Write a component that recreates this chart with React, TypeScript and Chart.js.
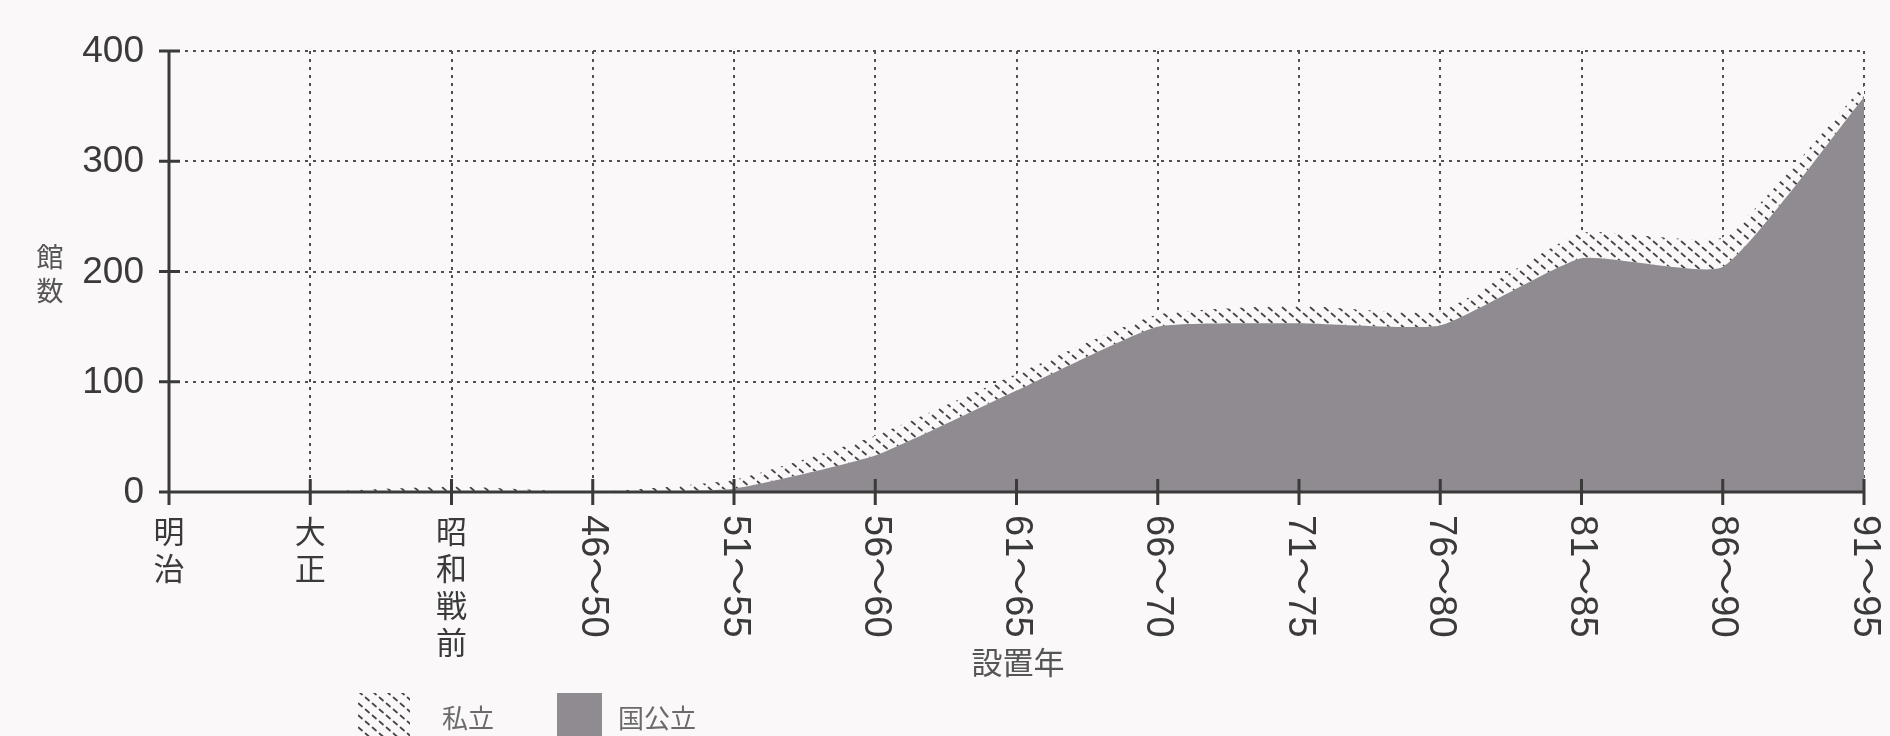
import React, { useEffect, useRef } from 'react';
import { Chart, registerables } from 'chart.js';

Chart.register(...registerables);

const categories = ['明治', '大正', '昭和戦前', '46〜50', '51〜55', '56〜60', '61〜65', '66〜70', '71〜75', '76〜80', '81〜85', '86〜90', '91〜95'];
const publicValues = [0, 0, 1, 0, 3, 33, 92, 150, 153, 151, 212, 204, 358];
const privateValues = [0, 0, 4, 0, 8, 18, 15, 11, 16, 13, 23, 27, 11];
const yTicks = [0, 100, 200, 300, 400];
const yTitle = ['館', '数'];
const xTitle = '設置年';
const privateLabel = '私立';
const publicLabel = '国公立';

const BG = '#faf8f9';
const GRAY = '#908b90';
const INK = '#3a3a3a';
const NUM_FONT = '"Liberation Sans", "Noto Sans CJK JP", sans-serif';
const CJK_FONT = '"Noto Sans CJK JP", sans-serif';

function makeHatch(): CanvasPattern | string {
  const c = document.createElement('canvas');
  c.width = 14;
  c.height = 12;
  const g = c.getContext('2d');
  if (!g) return '#ddd';
  g.fillStyle = BG;
  g.fillRect(0, 0, 14, 12);
  g.strokeStyle = '#444';
  g.lineWidth = 1.7;
  g.lineCap = 'round';
  g.beginPath();
  g.moveTo(1.5, 1.5);
  g.lineTo(5, 4.5);
  g.moveTo(8.5, 7.5);
  g.lineTo(12, 10.5);
  g.stroke();
  return g.createPattern(c, 'repeat') || '#ddd';
}

export default function App() {
  const ref = useRef<HTMLCanvasElement | null>(null);

  useEffect(() => {
    const canvas = ref.current;
    if (!canvas) return;
    const hatch = makeHatch();

    const overlay = {
      id: 'overlay',
      afterDatasetsDraw(chart: any) {
        const { ctx } = chart;
        const x = chart.scales.x;
        const y = chart.scales.y;
        const x0 = x.left;
        const x1 = x.right;
        const yb = y.getPixelForValue(0);
        const yt = y.getPixelForValue(400);
        ctx.save();
        // axes
        ctx.strokeStyle = INK;
        ctx.lineWidth = 3;
        ctx.beginPath();
        ctx.moveTo(x0, yt);
        ctx.lineTo(x0, yb);
        ctx.moveTo(x0, yb);
        ctx.lineTo(x1, yb);
        yTicks.forEach((v) => {
          const py = y.getPixelForValue(v);
          ctx.moveTo(x0 - 10, py);
          ctx.lineTo(x0 + 11, py);
        });
        categories.forEach((_, i) => {
          const px = x.getPixelForValue(i);
          ctx.moveTo(px, yb - 13);
          ctx.lineTo(px, yb + 13);
        });
        ctx.stroke();

        // y tick labels
        ctx.fillStyle = INK;
        ctx.font = `37px ${NUM_FONT}`;
        ctx.textAlign = 'right';
        ctx.textBaseline = 'middle';
        yTicks.forEach((v) => {
          ctx.fillText(String(v), x0 - 25, y.getPixelForValue(v) + 1);
        });

        // x tick labels
        categories.forEach((lab, i) => {
          const px = x.getPixelForValue(i);
          if (/\d/.test(lab)) {
            ctx.save();
            ctx.translate(px, yb + 23);
            ctx.rotate(Math.PI / 2);
            ctx.font = `38px ${NUM_FONT}`;
            ctx.textAlign = 'left';
            ctx.textBaseline = 'middle';
            ctx.fillText(lab, 0, 0);
            ctx.restore();
          } else {
            ctx.font = `31px ${CJK_FONT}`;
            ctx.textAlign = 'center';
            ctx.textBaseline = 'middle';
            Array.from(lab).forEach((ch, k) => {
              ctx.fillText(ch, px, yb + 39 + k * 37);
            });
          }
        });

        // axis titles
        ctx.fillStyle = '#555';
        ctx.font = `27px ${CJK_FONT}`;
        ctx.textAlign = 'center';
        yTitle.forEach((ch, k) => ctx.fillText(ch, 50, 257 + k * 34));
        ctx.font = `31px ${CJK_FONT}`;
        ctx.fillText(xTitle, 1018, 662);

        // legend
        ctx.fillStyle = hatch as any;
        ctx.fillRect(358, 693, 52, 50);
        ctx.fillStyle = GRAY;
        ctx.fillRect(557, 693, 45, 50);
        ctx.fillStyle = '#6a6a6a';
        ctx.font = `26px ${CJK_FONT}`;
        ctx.textAlign = 'left';
        ctx.fillText(privateLabel, 442, 718);
        ctx.fillText(publicLabel, 618, 718);
        ctx.restore();
      },
    };

    const chart = new Chart(canvas, {
      type: 'line',
      data: {
        labels: categories,
        datasets: [
          {
            label: publicLabel,
            data: publicValues,
            fill: 'origin',
            backgroundColor: GRAY,
            borderColor: 'rgba(0,0,0,0)',
            borderWidth: 0,
            pointRadius: 0,
            tension: 0.15,
          },
          {
            label: privateLabel,
            data: privateValues,
            fill: '-1',
            backgroundColor: hatch as any,
            borderColor: 'rgba(0,0,0,0)',
            borderWidth: 0,
            pointRadius: 0,
            tension: 0.15,
          },
        ],
      },
      options: {
        responsive: false,
        animation: false,
        layout: { padding: { left: 169, right: 26, top: 51, bottom: 244 } },
        plugins: { legend: { display: false }, tooltip: { enabled: false } },
        scales: {
          x: {
            type: 'category',
            offset: false,
            ticks: { display: false },
            grid: { color: '#505050', lineWidth: 2, drawTicks: false },
            border: { display: false, dash: [3, 5] },
          },
          y: {
            min: 0,
            max: 400,
            stacked: true,
            ticks: { display: false, stepSize: 100 },
            grid: { color: '#505050', lineWidth: 2, drawTicks: false },
            border: { display: false, dash: [3, 5] },
          },
        },
      },
      plugins: [overlay],
    });
    return () => chart.destroy();
  }, []);

  return (
    <div style={{ position: 'absolute', left: 0, top: 0, width: 1890, height: 736, background: BG, overflow: 'hidden' }}>
      <canvas ref={ref} width={1890} height={736} style={{ display: 'block' }} />
    </div>
  );
}
